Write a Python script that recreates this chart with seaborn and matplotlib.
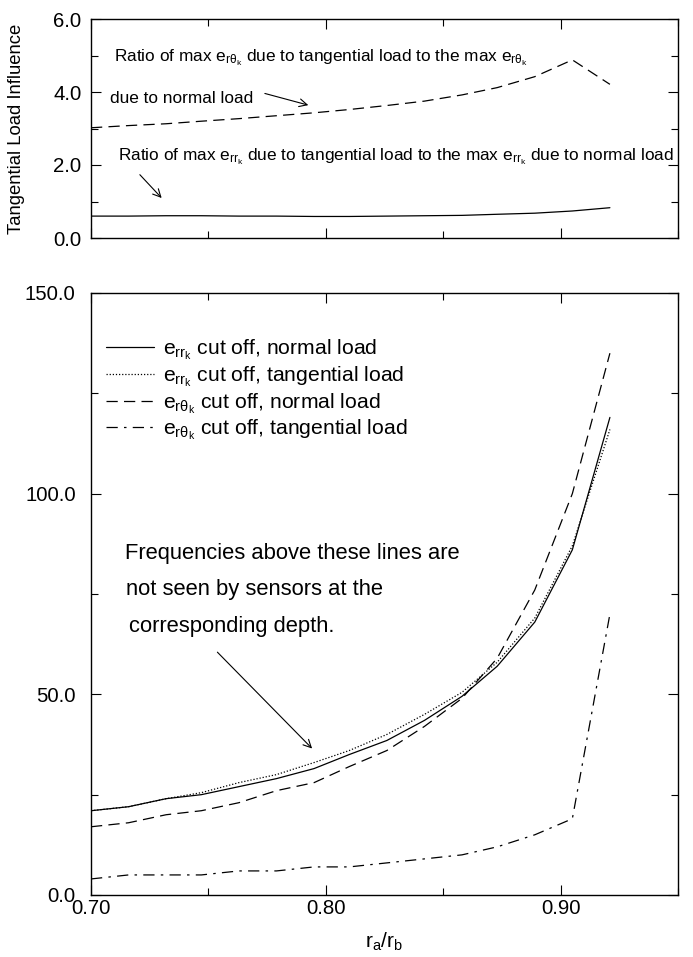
import matplotlib
matplotlib.use("Agg")
import matplotlib.pyplot as plt
import seaborn as sns
from matplotlib.ticker import MultipleLocator, FormatStrFormatter

sns.set_style("ticks", rc={'text.color': 'black', 'axes.labelcolor': 'black',
                           'xtick.color': 'black', 'ytick.color': 'black',
                           'axes.edgecolor': 'black'})
plt.rcParams['font.family'] = ['Liberation Sans', 'DejaVu Sans']
plt.rcParams['mathtext.fontset'] = 'custom'
plt.rcParams['mathtext.rm'] = 'Liberation Sans'
plt.rcParams['mathtext.it'] = 'Liberation Sans'
plt.rcParams['mathtext.bf'] = 'Liberation Sans:bold'

# ---------------- data ----------------
ratio_x = [0.700, 0.716, 0.732, 0.747, 0.763, 0.779, 0.795, 0.810, 0.826,
           0.842, 0.858, 0.873, 0.889, 0.905, 0.921]
ratio_rtheta = [3.02, 3.08, 3.13, 3.20, 3.27, 3.35, 3.43, 3.52, 3.63,
                3.75, 3.92, 4.12, 4.42, 4.88, 4.21]
ratio_rr = [0.60, 0.60, 0.61, 0.61, 0.60, 0.60, 0.59, 0.59, 0.60,
            0.61, 0.62, 0.65, 0.68, 0.74, 0.83]

cut_x = [0.700, 0.716, 0.732, 0.747, 0.763, 0.779, 0.795, 0.810, 0.826,
         0.842, 0.858, 0.873, 0.889, 0.905, 0.921]
err_normal = [21, 22, 24, 25, 27, 29, 31.5, 35, 38.5, 43.5, 49.5, 57, 68, 86, 119]
err_tangential = [21, 22, 24, 25.5, 28, 30, 33, 36, 40, 45, 50.5, 58, 69, 87, 116]
ertheta_normal = [17, 18, 20, 21, 23, 26, 28, 32, 36, 42, 49, 59, 76, 100, 135]
ertheta_tangential = [4, 5, 5, 5, 6, 6, 7, 7, 8, 9, 10, 12, 15, 19, 70]

legend_labels = [
    r'$\mathrm{e}_{\mathrm{rr}_\mathrm{k}}$ cut off, normal load',
    r'$\mathrm{e}_{\mathrm{rr}_\mathrm{k}}$ cut off, tangential load',
    r'$\mathrm{e}_{\mathrm{r\theta}_\mathrm{k}}$ cut off, normal load',
    r'$\mathrm{e}_{\mathrm{r\theta}_\mathrm{k}}$ cut off, tangential load',
]

# ---------------- figure ----------------
W, H = 693, 957
fig = plt.figure(figsize=(W / 100, H / 100), dpi=100)
L, R = 91, 678
ax1 = fig.add_axes([L / W, 1 - 238 / H, (R - L) / W, (238 - 19) / H])
ax2 = fig.add_axes([L / W, 1 - 895 / H, (R - L) / W, (895 - 293) / H])

dash = (0, (9, 5))
dashdot = (0, (9, 5, 2, 5))
dotted = (0, (1, 1.5))

# top panel
sns.lineplot(x=ratio_x, y=ratio_rtheta, ax=ax1, color='black', lw=0.9, linestyle=dash)
sns.lineplot(x=ratio_x, y=ratio_rr, ax=ax1, color='black', lw=0.9)

# bottom panel
styles = ['-', dotted, dash, dashdot]
series = [err_normal, err_tangential, ertheta_normal, ertheta_tangential]
for s, ls, lab in zip(series, styles, legend_labels):
    sns.lineplot(x=cut_x, y=s, ax=ax2, color='black', lw=0.9, linestyle=ls, label=lab)

for ax in (ax1, ax2):
    ax.set_xlim(0.70, 0.95)
    for sp in ax.spines.values():
        sp.set_visible(True)
        sp.set_linewidth(1.0)
        sp.set_color('black')
    ax.xaxis.set_major_locator(MultipleLocator(0.10))
    ax.xaxis.set_minor_locator(MultipleLocator(0.05))
    ax.tick_params(which='both', direction='in', top=True, right=True,
                   color='black', labelcolor='black', width=0.8)
    ax.tick_params(which='major', length=7, labelsize=14.7)
    ax.tick_params(which='minor', length=5)
    ax.set_xlabel('')
    ax.set_ylabel('')

ax1.set_ylim(0, 6)
ax1.yaxis.set_major_locator(MultipleLocator(2))
ax1.yaxis.set_minor_locator(MultipleLocator(1))
ax1.yaxis.set_major_formatter(FormatStrFormatter('%.1f'))
ax1.tick_params(axis='x', labelbottom=False)
ax1.tick_params(axis='y', pad=7)
ax1.set_ylabel('Tangential Load Influence', fontsize=13.3, color='black')
ax1.yaxis.set_label_coords(-0.112, 0.5)

ax2.set_ylim(0, 150)
ax2.yaxis.set_major_locator(MultipleLocator(50))
ax2.yaxis.set_minor_locator(MultipleLocator(25))
ax2.yaxis.set_major_formatter(FormatStrFormatter('%.1f'))
ax2.xaxis.set_major_formatter(FormatStrFormatter('%.2f'))
ax2.tick_params(axis='y', pad=11)
ax2.tick_params(axis='x', pad=3)
ax2.set_xlabel(r'$\mathrm{r}_\mathrm{a}/\mathrm{r}_\mathrm{b}$', fontsize=15, labelpad=9,
               color='black')

# top annotations
tfs = 12.4
ax1.text(0.7098, 4.85, r'Ratio of max $\mathrm{e}_{\mathrm{r\theta}_\mathrm{k}}$ due to tangential load to the max $\mathrm{e}_{\mathrm{r\theta}_\mathrm{k}}$',
         fontsize=tfs, va='baseline', ha='left', color='black')
ax1.text(0.7080, 3.70, 'due to normal load', fontsize=tfs, va='baseline', ha='left',
         color='black')
ax1.annotate('', xy=(0.7937, 3.62), xytext=(0.7729, 3.98),
             arrowprops=dict(arrowstyle='->', lw=0.8, color='black', mutation_scale=14))
ax1.text(0.7115, 2.12, r'Ratio of max $\mathrm{e}_{\mathrm{rr}_\mathrm{k}}$ due to tangential load to the max $\mathrm{e}_{\mathrm{rr}_\mathrm{k}}$ due to normal load',
         fontsize=tfs, va='baseline', ha='left', color='black')
ax1.annotate('', xy=(0.7309, 1.04), xytext=(0.7200, 1.79),
             arrowprops=dict(arrowstyle='->', lw=0.8, color='black', mutation_scale=14))

# bottom annotation
afs = 15.8
ax2.text(0.7145, 85.0, 'Frequencies above these lines are', fontsize=afs, va='center',
         color='black')
ax2.text(0.7150, 76.0, 'not seen by sensors at the', fontsize=afs, va='center',
         color='black')
ax2.text(0.7160, 67.0, 'corresponding depth.', fontsize=afs, va='center', color='black')
ax2.annotate('', xy=(0.7950, 36.0), xytext=(0.7530, 61.0),
             arrowprops=dict(arrowstyle='->', lw=0.8, color='black', mutation_scale=14))

leg = ax2.legend(loc='upper left', bbox_to_anchor=(0.012, 0.94), frameon=False,
                 fontsize=15.2, handlelength=2.25, handletextpad=0.45, labelspacing=0.1,
                 borderaxespad=0.0, labelcolor='black')
for h in leg.get_lines():
    h.set_linewidth(0.9)

fig.savefig('out.png', dpi=100)
